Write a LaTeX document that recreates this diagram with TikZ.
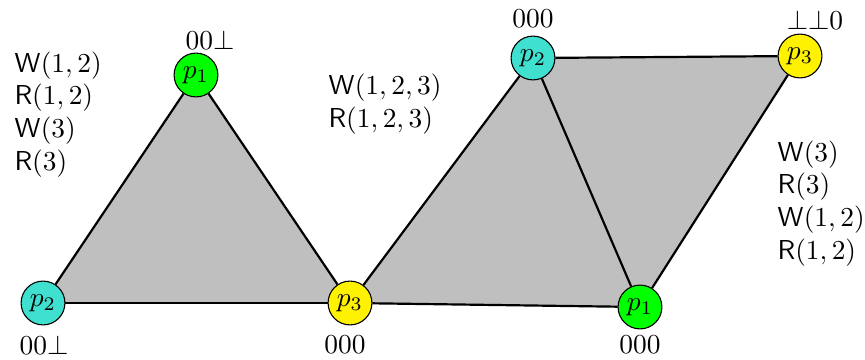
\documentclass[tikz,border=0pt]{standalone}
\usetikzlibrary{backgrounds}
\definecolor{turq}{RGB}{64,224,208}
\begin{document}
\begin{tikzpicture}[x=0.365pt, y=-0.365pt]
    \tikzset{
        proc/.style={circle, draw, minimum size=16pt, inner sep=0pt},
        ops/.style={align=left, anchor=west, inner sep=0pt},
        edge/.style={thick}
    }
    \useasboundingbox (0,0) rectangle (865,360);

    % --- Processes ---
    \node[proc, fill=turq] (l2) at (43,303) {$p_2$};
    \node[proc, fill=green] (l1) at (196,75) {$p_1$};
    \node[proc, fill=yellow] (m3) at (350,303) {$p_3$};
    \node[proc, fill=turq] (m2) at (533,58) {$p_2$};
    \node[proc, fill=green] (r1) at (640,307) {$p_1$};
    \node[proc, fill=yellow] (r3) at (800,56) {$p_3$};

    % Shaded faces
    \begin{scope}[on background layer]
        \fill[lightgray] (l2.center) -- (l1.center) -- (m3.center) -- cycle;
        \fill[lightgray] (m3.center) -- (m2.center) -- (r1.center) -- cycle;
        \fill[lightgray] (m2.center) -- (r3.center) -- (r1.center) -- cycle;
    \end{scope}

    % Edges
    \draw[edge] (l2) -- (l1);
    \draw[edge] (l1) -- (m3);
    \draw[edge] (l2) -- (m3);
    \draw[edge] (m3) -- (m2);
    \draw[edge] (m3) -- (r1);
    \draw[edge] (m2) -- (r1);
    \draw[edge] (m2) -- (r3);
    \draw[edge] (r3) -- (r1);

    % --- Views ---
    \node (vl2) at (44,345) {$00\bot$};
    \node (vl1) at (210,40) {$00\bot$};
    \node (vm3) at (345,345) {$000$};
    \node (vm2) at (533,19) {$000$};
    \node (vr1) at (640,345) {$000$};
    \node (vr3) at (815,20) {$\bot\bot0$};

    % --- Operations ---
    \node[ops] (opl) at (14,114.5) {$\mathsf{W}(1,2)$\\$\mathsf{R}(1,2)$\\$\mathsf{W}(3)$\\$\mathsf{R}(3)$};
    \node[ops] (opm) at (328,104.5) {$\mathsf{W}(1,2,3)$\\$\mathsf{R}(1,2,3)$};
    \node[ops] (opr) at (777,203.5) {$\mathsf{W}(3)$\\$\mathsf{R}(3)$\\$\mathsf{W}(1,2)$\\$\mathsf{R}(1,2)$};

\end{tikzpicture}
\end{document}
